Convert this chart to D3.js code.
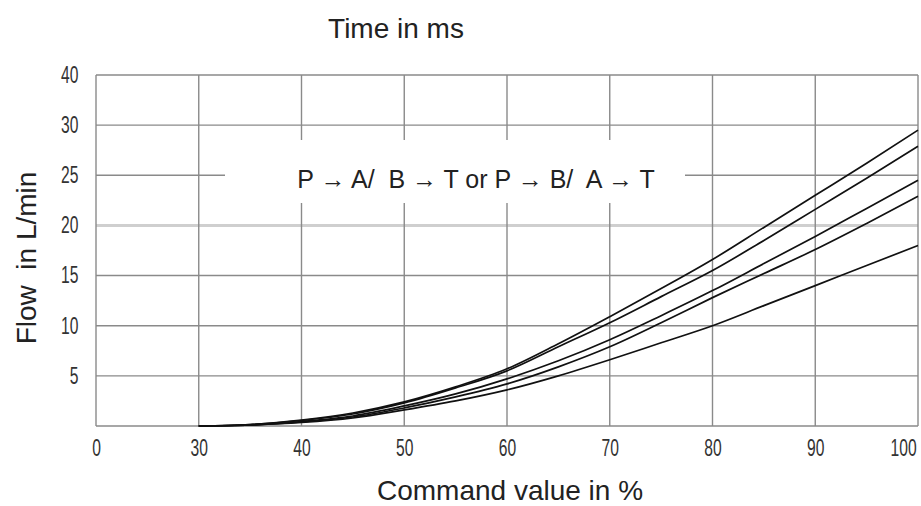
<!DOCTYPE html>
<html>
<head>
<meta charset="utf-8">
<style>
body { margin: 0; background: #fff; }
svg { display: block; }
</style>
</head>
<body>
<svg id="chart"></svg>
<script src="https://cdnjs.cloudflare.com/ajax/libs/d3/7.8.5/d3.min.js"></script>
<script>
// tick values (the axes are not linear, every tick gets the same space)
var xTicks = [0, 30, 40, 50, 60, 70, 80, 90, 100];
var yTicks = [0, 5, 10, 15, 20, 25, 30, 40];

// command value in %
var command = [30, 35, 40, 45, 50, 55, 60, 65, 70, 75, 80, 85, 90, 95, 100];

// flow in L/min, five curves
var flow1 = [0, 0.15, 0.6, 1.3, 2.4, 3.9, 5.7, 8.2, 10.9, 13.7, 16.6, 19.8, 23.0, 26.2, 29.5];
var flow2 = [0, 0.15, 0.55, 1.2, 2.3, 3.8, 5.5, 7.9, 10.3, 12.9, 15.5, 18.5, 21.6, 24.7, 27.9];
var flow3 = [0, 0.1, 0.45, 1.0, 2.0, 3.2, 4.7, 6.5, 8.6, 11.0, 13.5, 16.2, 18.9, 21.7, 24.5];
var flow4 = [0, 0.1, 0.4, 0.9, 1.8, 2.9, 4.2, 5.9, 7.9, 10.3, 12.8, 15.2, 17.6, 20.2, 22.9];
var flow5 = [0, 0.1, 0.35, 0.8, 1.6, 2.5, 3.6, 5.0, 6.6, 8.3, 10.0, 12.0, 14.0, 16.0, 18.0];

var width = 921, height = 506;
var plotLeft = 96, plotRight = 918, plotTop = 75, plotBottom = 426;

var svg = d3.select('#chart')
  .attr('width', width)
  .attr('height', height);

var xScale = d3.scaleLinear()
  .domain(xTicks)
  .range(xTicks.map(function(d, i) { return plotLeft + i * (plotRight - plotLeft) / (xTicks.length - 1); }));

var yScale = d3.scaleLinear()
  .domain(yTicks)
  .range(yTicks.map(function(d, i) { return plotBottom - i * (plotBottom - plotTop) / (yTicks.length - 1); }));

var gridColor = '#8a8a8a';
var tickFont = '"Liberation Sans", Arial, sans-serif';

// horizontal grid
svg.append('g').selectAll('line')
  .data(yTicks)
  .enter()
  .append('line')
  .attr('x1', plotLeft)
  .attr('x2', plotRight)
  .attr('y1', function(d) { return yScale(d); })
  .attr('y2', function(d) { return yScale(d); })
  .attr('stroke', function(d) { return d === 20 ? '#cfcfcf' : gridColor; })
  .attr('stroke-width', function(d) { return d === 20 ? 3 : 1.4; });

// vertical grid
svg.append('g').selectAll('line')
  .data(xTicks)
  .enter()
  .append('line')
  .attr('x1', function(d) { return xScale(d); })
  .attr('x2', function(d) { return xScale(d); })
  .attr('y1', plotTop)
  .attr('y2', plotBottom)
  .attr('stroke', gridColor)
  .attr('stroke-width', 1.4);

// white box behind the label
svg.append('rect')
  .attr('x', 225)
  .attr('y', 140)
  .attr('width', 460)
  .attr('height', 63)
  .attr('fill', '#fff');

svg.append('text')
  .attr('x', 476)
  .attr('y', 188)
  .attr('text-anchor', 'middle')
  .attr('font-family', 'Liberation Sans, Arial, sans-serif')
  .attr('font-size', 25)
  .attr('fill', '#222')
  .style('white-space', 'pre')
  .text('P \u2192 A/  B \u2192 T or P \u2192 B/  A \u2192 T');

// axis tick labels, narrow and tall like the original
var xAxis = svg.append('g')
  .attr('transform', 'translate(0,' + plotBottom + ')')
  .call(d3.axisBottom(xScale).tickValues(xTicks).tickSize(0).tickPadding(14).tickFormat(d3.format('d')));
xAxis.select('.domain').remove();
xAxis.selectAll('text')
  .attr('font-family', tickFont)
  .attr('font-size', 23)
  .attr('transform', 'scale(0.68,1)')
  .attr('fill', '#333')
  .attr('x', function(d) { return d === 100 ? -22 : 0; });

var yAxis = svg.append('g')
  .attr('transform', 'translate(' + plotLeft + ',0)')
  .call(d3.axisLeft(yScale).tickValues(yTicks.filter(function(d) { return d > 0; })).tickSize(0).tickPadding(26).tickFormat(d3.format('d')));
yAxis.select('.domain').remove();
yAxis.selectAll('text')
  .attr('font-family', tickFont)
  .attr('font-size', 23)
  .attr('transform', 'scale(0.68,1)')
  .attr('fill', '#333');

// curves
var line = d3.line()
  .x(function(d) { return xScale(d[0]); })
  .y(function(d) { return yScale(d[1]); })
  .curve(d3.curveMonotoneX);

[flow1, flow2, flow3, flow4, flow5].forEach(function(series) {
  svg.append('path')
    .datum(command.map(function(c, i) { return [c, series[i]]; }))
    .attr('fill', 'none')
    .attr('stroke', '#111')
    .attr('stroke-width', 1.7)
    .attr('d', line);
});

// titles
svg.append('text')
  .attr('x', 396)
  .attr('y', 38)
  .attr('text-anchor', 'middle')
  .attr('font-family', 'Liberation Sans, Arial, sans-serif')
  .attr('font-size', 28)
  .attr('fill', '#222')
  .text('Time in ms');

svg.append('text')
  .attr('x', 510)
  .attr('y', 500)
  .attr('text-anchor', 'middle')
  .attr('font-family', 'Liberation Sans, Arial, sans-serif')
  .attr('font-size', 28)
  .attr('fill', '#222')
  .text('Command value in %');

svg.append('text')
  .attr('transform', 'translate(36,258) rotate(-90)')
  .attr('text-anchor', 'middle')
  .attr('font-family', 'Liberation Sans, Arial, sans-serif')
  .attr('font-size', 28)
  .attr('fill', '#222')
  .style('white-space', 'pre')
  .text('Flow  in L/min');
</script>
</body>
</html>
